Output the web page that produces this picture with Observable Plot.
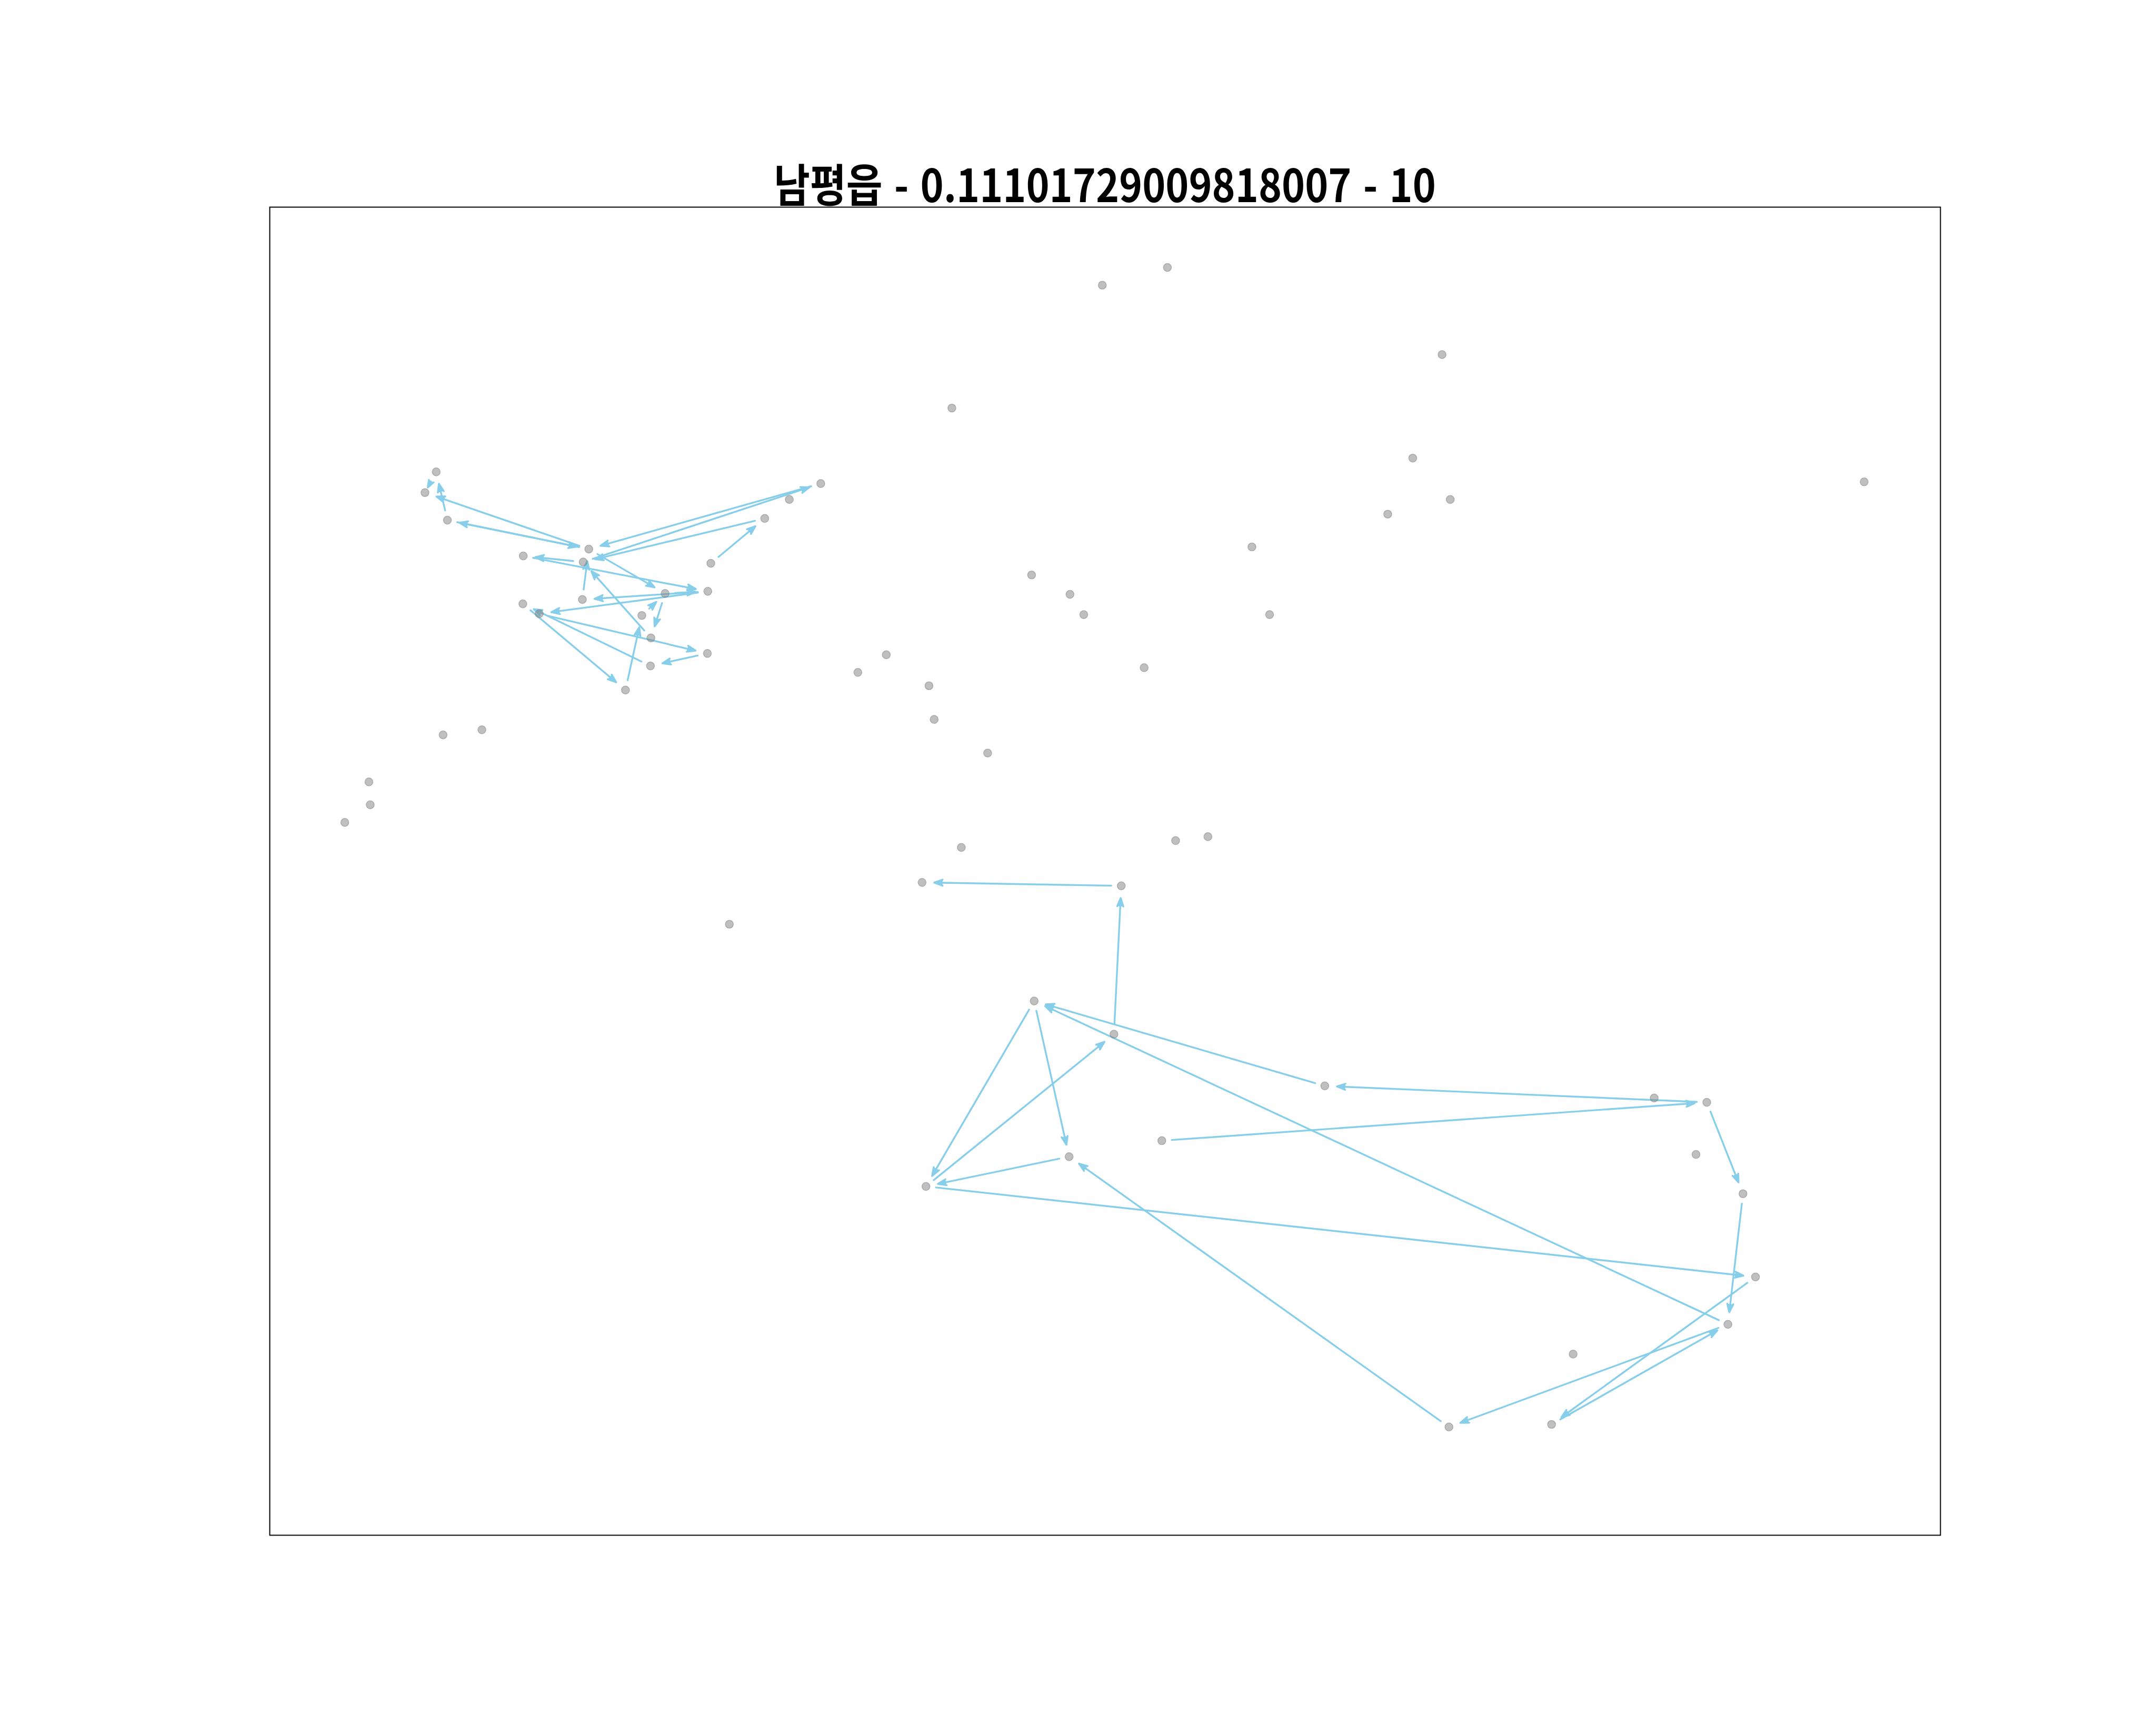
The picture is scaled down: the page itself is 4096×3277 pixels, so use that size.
<!DOCTYPE html>
<html>
<head>
<meta charset="utf-8">
<script src="https://cdn.jsdelivr.net/npm/d3@7"></script>
<script src="https://cdn.jsdelivr.net/npm/@observablehq/plot@0.6"></script>
<style>
html, body { margin: 0; padding: 0; background: #fff; }
#wrap { position: relative; width: 4096px; height: 3277px; overflow: hidden; }
#title {
  position: absolute; left: 512px; width: 3174px; top: 304px;
  text-align: center; font-family: "Noto Sans CJK KR", "Noto Sans", sans-serif;
  font-weight: 700; font-size: 86px; line-height: 86px;
  color: #000; white-space: nowrap;
}
#title span { display: inline-block; transform: scaleX(0.87); transform-origin: 50% 50%; word-spacing: 6px; }
#chart { position: absolute; left: 0; top: 0; }
</style>
</head>
<body>
<div id="wrap"><div id="chart"></div><div id="title"><span id="titleText"></span></div></div>
<script>
const titleText = "남평읍 - 0.11101729009818007 - 10";

// Location ids and their coordinates (arbitrary east/north units)
const pointIds = [
  "P1","P2","P3","P4","P5","P6","P7","P8","P9","P10",
  "P11","P12","P13","P14","P15","P16","P17","P18","P19","P20",
  "S1","S2","S3","S4","S5","S6","S7","S8","S9","S10",
  "S11","S12","S13","S14","S15","S16","S17","S18","S19","S20",
  "S21","S22","S23","S24","S25","S26","S27","S28",
  "B1","B2","B3","B4","B5","B6","B7","B8","B9","B10",
  "B11","B12","B13","B14","B15","B16","B17"
];
const east = [
  386, 360, 412, 588, 740, 727, 725, 587, 625, 917,
  1016, 863, 884, 1015, 883, 825, 1023, 1148, 1205, 1278,
  2082, 1931, 2719, 1582, 2651, 3698, 2738, 2593, 2278, 1767,
  1856, 1888, 2319, 1430, 1364, 1529, 2028, 1541, 1665, 402,
  492, 230, 233, 174, 1604, 2101, 2176, 1066,
  1513, 1975, 1773, 1958, 1854, 1522, 2069, 2447, 3211, 3333,
  3308, 3417, 3446, 3382, 3023, 2973, 2735
];
const north = [
  2466, 2418, 2354, 2271, 2287, 2257, 2170, 2160, 2137, 2184,
  2189, 2133, 2081, 2045, 2016, 1960, 2254, 2358, 2402, 2439,
  2940, 2899, 2738, 2614, 2498, 2443, 2402, 2368, 2292, 2227,
  2182, 2135, 2135, 2042, 2001, 1970, 2012, 1892, 1814, 1856,
  1868, 1747, 1694, 1653, 1595, 1611, 1620, 1417,
  1514, 1506, 1239, 1162, 878, 809, 915, 1042, 1014, 1004,
  883, 792, 599, 489, 420, 257, 251
];

// Moves between locations
const arrowFrom = [
  "P3","P5","P5","P3","P6","P4","P18","P20","P6","P17","P5","P10",
  "P11","P11","P7","P13","P12","P10","P9","P14","P15","P8","P16",
  "B2","B4","B3","B6","B3","B5","B6","B8","B14","B17","B7","B10",
  "B10","B12","B13","B16","B14"
];
const arrowTo = [
  "P1","P2","P3","P5","P4","P11","P6","P5","P20","P18","P10","P11",
  "P7","P9","P5","P6","P10","P13","P14","P15","P8","P16","P12",
  "B1","B2","B6","B4","B5","B6","B13","B3","B3","B5","B10","B8",
  "B12","B14","B16","B14","B17"
];
// very short move (drawn with smaller insets)
const shortFrom = ["P1"];
const shortTo = ["P2"];

const points = pointIds.map((id, i) => ({id, east: east[i], north: north[i]}));
const byId = new Map(points.map(d => [d.id, d]));
const mkArrows = (from, to) => from.map((f, i) => ({
  x1: byId.get(f).east, y1: byId.get(f).north,
  x2: byId.get(to[i]).east, y2: byId.get(to[i]).north
}));
const arrows = mkArrows(arrowFrom, arrowTo);
const shortArrows = mkArrows(shortFrom, shortTo);

const arrowStyle = {
  x1: "x1", y1: "y1", x2: "x2", y2: "y2",
  stroke: "#87ceeb", fill: "#87ceeb", strokeWidth: 3.4,
  strokeLinecap: "round", headLength: 7.5, headAngle: 40
};

const chart = Plot.plot({
  width: 4096, height: 3277,
  marginLeft: 512, marginRight: 410, marginTop: 393, marginBottom: 361,
  x: {domain: [0, 3875], axis: null},
  y: {domain: [0, 3080], axis: null},
  style: {background: "white"},
  marks: [
    Plot.arrow(arrows, {...arrowStyle, insetStart: 19, insetEnd: 23}),
    Plot.arrow(shortArrows, {...arrowStyle, insetStart: 21, insetEnd: 11}),
    Plot.dot(points, {
      x: "east", y: "north", r: 7.6,
      fill: "gray", fillOpacity: 0.5,
      stroke: "gray", strokeOpacity: 0.5, strokeWidth: 1.5
    }),
    Plot.frame({stroke: "black", strokeWidth: 2})
  ]
});
document.getElementById("chart").appendChild(chart);
document.getElementById("titleText").textContent = titleText;
</script>
</body>
</html>
